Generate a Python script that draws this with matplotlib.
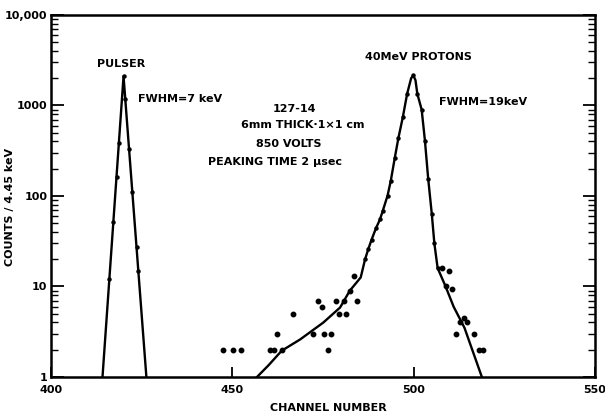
import matplotlib
matplotlib.use("Agg")
import matplotlib.pyplot as plt
from matplotlib.ticker import FixedLocator, FixedFormatter, LogLocator, NullFormatter, NullLocator

# pulser peak (straight segments) and its measured points
pulser_line_ch = [414.2, 420.0, 426.3]
pulser_line_counts = [1, 2100, 1]
pulser_ch = [416.1, 417.2, 418.1, 418.7, 420.0, 420.5, 421.5, 422.4, 423.6, 424.1]
pulser_counts = [12, 51, 163, 385, 2100, 1170, 330, 110, 27, 15]

# 40 MeV proton peak: drawn curve and the points lying on it
proton_line_ch = [456.8, 460.0, 463.6, 468.7, 475.1, 479.7, 482.4, 484.2, 485.4, 486.6,
                  487.5, 488.4, 489.6, 490.7, 491.5, 492.8, 493.7, 494.8, 495.8, 497.0,
                  498.2, 499.3, 499.9, 500.5, 501.0, 502.2, 503.1, 504.0, 505.0, 505.7,
                  506.6, 508.8, 511.0, 514.0, 518.8]
proton_line_counts = [1, 1.35, 1.95, 2.6, 4.0, 5.85, 9, 11, 12.6, 20,
                      26, 33, 44, 55, 69, 101, 148, 265, 440, 740,
                      1350, 2000, 2150, 1900, 1350, 900, 410, 155, 63, 30,
                      16, 10, 6, 3.5, 1]
proton_ch = [486.6, 487.5, 488.4, 489.6, 490.7, 491.5, 492.8, 493.7, 494.8, 495.8,
             497.0, 498.2, 499.9, 501.0, 502.2, 503.1, 504.0, 505.0, 505.7, 506.6]
proton_counts = [20, 26, 33, 44, 55, 69, 101, 148, 265, 440,
                 740, 1350, 2150, 1350, 900, 410, 155, 63, 30, 16]

# scattered low-count points in the tails
tail_ch = [447.3, 450.3, 452.4, 460.3, 461.5, 462.3, 463.6, 466.6, 472.3, 473.7,
           474.6, 475.4, 476.3, 477.3, 478.6, 479.5, 480.7, 481.4, 482.4, 484.3,
           483.5, 507.7, 509.8, 508.8, 510.7, 511.7, 512.8, 513.8, 514.7, 516.7,
           517.9, 519.0]
tail_counts = [2, 2, 2, 2, 2, 3, 2, 5, 3, 7,
               6, 3, 2, 3, 7, 5, 7, 5, 9, 7,
               13, 16, 15, 10, 9.5, 3, 4, 4.5, 4, 3,
               2, 2]

y_ticks = [1, 10, 100, 1000, 10000]
y_tick_labels = ["1", "10", "100", "1000", "10,000"]
x_ticks = [400, 450, 500, 550]
x_tick_labels = ["400", "450", "500", "550"]

fig = plt.figure(figsize=(6.05, 4.15), dpi=100)
ax = fig.add_axes([0.0843, 0.0916, 0.8992, 0.8723])
ax.set_yscale("log")
ax.set_xlim(400, 550)
ax.set_ylim(1, 10000)

ax.plot(pulser_line_ch, pulser_line_counts, color="black", lw=1.7)
ax.plot(pulser_ch, pulser_counts, "o", color="black", ms=2.2)
ax.plot(proton_line_ch, proton_line_counts, color="black", lw=1.7)
ax.plot(proton_ch, proton_counts, "o", color="black", ms=2.2)
ax.plot(tail_ch, tail_counts, "o", color="black", ms=3.2, lw=0)

for s in ax.spines.values():
    s.set_linewidth(1.8)

ax.yaxis.set_major_locator(FixedLocator(y_ticks))
ax.yaxis.set_major_formatter(FixedFormatter(y_tick_labels))
ax.yaxis.set_minor_locator(LogLocator(base=10, subs=range(2, 10)))
ax.yaxis.set_minor_formatter(NullFormatter())
ax.xaxis.set_major_locator(FixedLocator(x_ticks))
ax.xaxis.set_major_formatter(FixedFormatter(x_tick_labels))
ax.xaxis.set_minor_locator(NullLocator())

ax.tick_params(axis="y", which="both", direction="in", left=True, right=True, pad=2.5)
ax.tick_params(axis="y", which="major", length=9, width=1.3)
ax.tick_params(axis="y", which="minor", length=5, width=1.0)
ax.tick_params(axis="x", which="major", direction="in", length=7, width=1.3, top=False, pad=6)
for lab in ax.get_xticklabels() + ax.get_yticklabels():
    lab.set_fontweight("bold")
    lab.set_fontsize(8)

ax.set_xlabel("CHANNEL NUMBER", fontsize=8, fontweight="bold")
ax.xaxis.set_label_coords(0.509, -0.072)
ax.set_ylabel("COUNTS / 4.45 keV", fontsize=8, fontweight="bold")
ax.yaxis.set_label_coords(-0.066, 0.471)

txt = dict(fontsize=8, fontweight="bold", color="black")
ax.text(419.3, 2880, "PULSER", ha="center", va="center", **txt)
ax.text(424.1, 1180, "FWHM=7 keV", ha="left", va="center", **txt)
ax.text(501.2, 3450, "40MeV PROTONS", ha="center", va="center", **txt)
ax.text(507.1, 1100, "FWHM=19keV", ha="left", va="center", **txt)
ax.text(467.0, 915, "127-14", ha="center", va="center", **txt)
ax.text(469.3, 609, "6mm THICK·1×1 cm", ha="center", va="center", **txt)
ax.text(465.6, 380, "850 VOLTS", ha="center", va="center", **txt)
ax.text(461.8, 240, "PEAKING TIME 2 μsec", ha="center", va="center", **txt)

fig.savefig("out.png", dpi=100)
